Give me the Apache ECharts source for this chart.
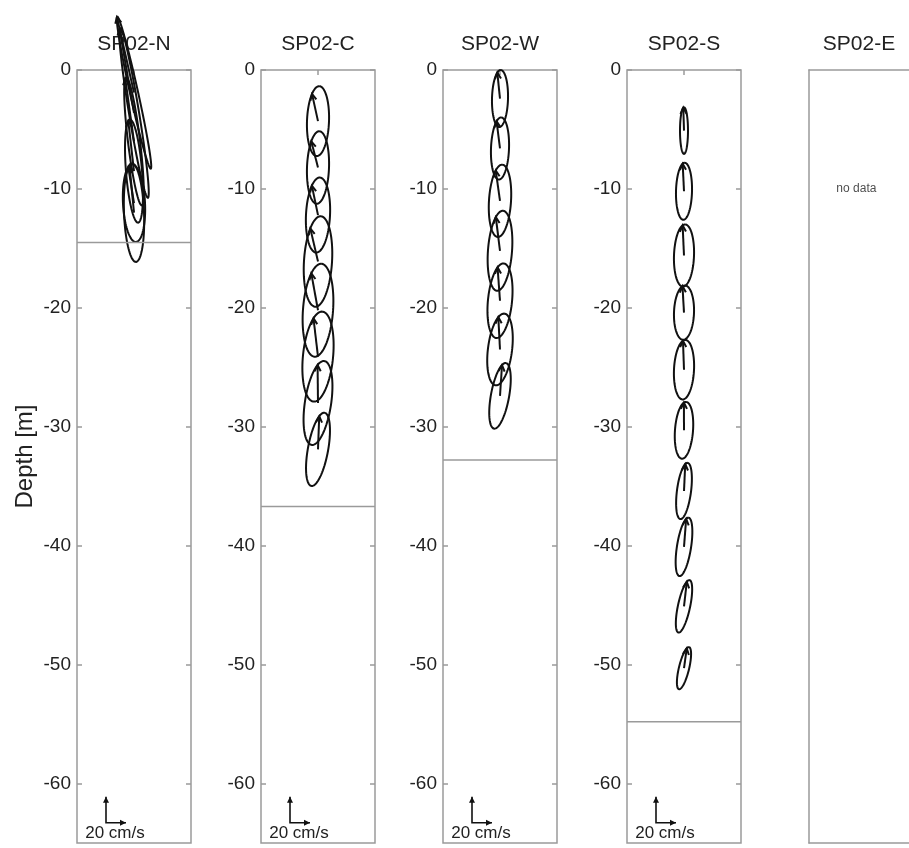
<!DOCTYPE html>
<html>
<head>
<meta charset="utf-8">
<script src="https://cdn.jsdelivr.net/npm/echarts@6/dist/echarts.min.js"></script>
<style>
html, body { margin: 0; background: #fff; }
#chart { width: 909px; height: 848px; }
</style>
</head>
<body>
<div id="chart"></div>
<script>
// stations and bottom depth [m]
const stations = ['SP02-N', 'SP02-C', 'SP02-W', 'SP02-S', 'SP02-E'];
const bottomDepth = [-14.5, -36.7, -32.8, -54.8, null];
const depthTicks = [0, -10, -20, -30, -40, -50, -60];

// tidal ellipses: depth [m], semi-major / semi-minor [cm/s],
// inclination [deg from north, + = east], phase [deg]
const depthN = [-1.9, -3.6, -6.0, -8.5, -11.2, -12.0];
const majorN = [61, 67, 50, 40, 30, 38];
const minorN = [4, 5, 6, 8, 11, 10];
const incN = [-16, -12, -9, -6, -4, -3];
const phaseN = [-5, -8, -10, -12, -20, -15];

const depthC = [-4.3, -8.2, -12.2, -16.1, -20.2, -24.1, -28.0, -31.9];
const majorC = [27, 28, 29, 35, 36, 35, 33, 29];
const minorC = [11, 11, 12, 14, 15, 15, 13, 10];
const incC = [3, 3, 4, 5, 6, 8, 12, 14];
const phaseC = [-40, -45, -40, -45, -40, -35, -30, -30];

const depthW = [-2.4, -6.6, -11.0, -15.2, -19.4, -23.5, -27.4];
const majorW = [22, 24, 28, 31, 29, 28, 26];
const minorW = [8, 9, 11, 12, 12, 12, 9];
const incW = [2, 3, 5, 6, 8, 10, 14];
const phaseW = [-25, -30, -35, -35, -30, -30, -25];

const depthS = [-5.1, -10.2, -15.6, -20.4, -25.2, -30.3, -35.4, -40.1, -45.1, -50.3];
const majorS = [18, 22, 24, 21, 23, 22, 22, 23, 21, 17];
const minorS = [4, 8, 10, 10, 10, 9, 7, 7, 6, 5];
const incS = [0, 2, 3, 3, 4, 6, 10, 12, 16, 18];
const phaseS = [-10, -15, -15, -15, -15, -15, -20, -20, -25, -25];

// scale arrow (east, depth, length cm/s) and "no data" label spot
const scaleBar = [-28, -63.3, 20];
const noDataAt = [-3, -10];

const VEL_TO_M = 0.109;   // north velocity -> depth units
const XMAX = 57;
const gridLeft = [77, 261, 443, 627, 809];
const FONT = '"Liberation Sans", Arial, sans-serif';
const AXIS_GRAY = '#9a9a9a';

const ellipseSets = [
    [depthN, majorN, minorN, incN, phaseN],
    [depthC, majorC, minorC, incC, phaseC],
    [depthW, majorW, minorW, incW, phaseW],
    [depthS, majorS, minorS, incS, phaseS]
];

const chart = echarts.init(document.getElementById('chart'));

const lineStyle = { stroke: '#111', lineWidth: 2, fill: null };

function renderEllipse(params, api) {
    const d = api.value(1);
    const A = api.value(2), B = api.value(3);
    const inc = api.value(4) * Math.PI / 180;
    const ph = api.value(5) * Math.PI / 180;
    const toPx = (a, b) => {
        const u = a * Math.sin(inc) + b * Math.cos(inc);
        const v = a * Math.cos(inc) - b * Math.sin(inc);
        return api.coord([u, d + v * VEL_TO_M]);
    };
    const pts = [];
    for (let k = 0; k <= 90; k++) {
        const t = k / 90 * Math.PI * 2;
        pts.push(toPx(A * Math.cos(t), B * Math.sin(t)));
    }
    const c = toPx(0, 0);
    const p = toPx(A * Math.cos(ph), B * Math.sin(ph));
    const ang = Math.atan2(p[1] - c[1], p[0] - c[0]);
    const L = 7, w = 0.45;
    const h1 = [p[0] - L * Math.cos(ang - w), p[1] - L * Math.sin(ang - w)];
    const h2 = [p[0] - L * Math.cos(ang + w), p[1] - L * Math.sin(ang + w)];
    return {
        type: 'group',
        children: [
            { type: 'polyline', shape: { points: pts }, style: lineStyle },
            { type: 'polyline', shape: { points: [c, p] }, style: lineStyle },
            { type: 'polyline', shape: { points: [h1, p, h2] }, style: lineStyle }
        ]
    };
}

function renderScale(params, api) {
    const u0 = api.value(0), d0 = api.value(1), len = api.value(2);
    const o = api.coord([u0, d0]);
    const up = api.coord([u0, d0 + len * VEL_TO_M]);
    const right = api.coord([u0 + len, d0]);
    const st = { stroke: '#111', lineWidth: 1.6, fill: null };
    return {
        type: 'group',
        children: [
            { type: 'polyline', shape: { points: [up, o, right] }, style: st },
            { type: 'polygon', shape: { points: [[up[0] - 3, up[1] + 6], [up[0], up[1]], [up[0] + 3, up[1] + 6]] }, style: { fill: '#111' } },
            { type: 'polygon', shape: { points: [[right[0] - 6, right[1] - 3], [right[0], right[1]], [right[0] - 6, right[1] + 3]] }, style: { fill: '#111' } },
            {
                type: 'text',
                x: o[0] + 9, y: o[1] + 11,
                style: { text: len + ' cm/s', font: '17px ' + FONT, fill: '#222', align: 'center', verticalAlign: 'middle' }
            }
        ]
    };
}

const grids = [], xAxes = [], yAxes = [], series = [];
const frameLine = { show: true, onZero: false, lineStyle: { color: AXIS_GRAY, width: 1.5 } };

stations.forEach((name, i) => {
    const hasData = i < 4;
    grids.push({
        left: gridLeft[i], top: 70, width: 114, height: 773,
        show: hasData, borderColor: AXIS_GRAY, borderWidth: 1.5, backgroundColor: 'transparent'
    });
    xAxes.push({
        gridIndex: i, type: 'value', position: 'top', min: -XMAX, max: XMAX,
        axisLine: hasData ? { show: false, onZero: false } : frameLine,
        axisTick: { show: hasData, inside: true, length: 5, customValues: [0], lineStyle: { color: AXIS_GRAY, width: 1.5 } },
        axisLabel: { show: false },
        splitLine: { show: false },
        name: name, nameLocation: 'middle', nameGap: 15,
        nameTextStyle: { fontFamily: FONT, fontSize: 21, color: '#222' }
    });
    yAxes.push({
        gridIndex: i, type: 'value', min: -65, max: 0,
        axisLine: hasData ? { show: false, onZero: false } : frameLine,
        axisTick: { show: hasData, inside: true, length: 5, customValues: depthTicks, lineStyle: { color: AXIS_GRAY, width: 1.5 } },
        axisLabel: { show: hasData, customValues: depthTicks, margin: 6, fontFamily: FONT, fontSize: 19, color: '#222' },
        splitLine: { show: false },
        name: i === 0 ? 'Depth [m]' : '', nameLocation: 'middle', nameGap: 40,
        nameTextStyle: { fontFamily: FONT, fontSize: 24, color: '#222' }
    });
    yAxes.push({
        gridIndex: i, type: 'value', position: 'right', min: -65, max: 0,
        axisLine: { show: false, onZero: false },
        axisTick: { show: hasData, inside: true, length: 5, customValues: depthTicks, lineStyle: { color: AXIS_GRAY, width: 1.5 } },
        axisLabel: { show: false },
        splitLine: { show: false }
    });

    if (hasData) {
        const [dep, maj, mnr, inc, ph] = ellipseSets[i];
        series.push({
            type: 'custom', xAxisIndex: i, yAxisIndex: 2 * i, clip: false,
            renderItem: renderEllipse,
            data: dep.map((d, k) => [0, d, maj[k], mnr[k], inc[k], ph[k]]),
            silent: true
        });
        series.push({
            type: 'line', xAxisIndex: i, yAxisIndex: 2 * i,
            data: [[-XMAX, bottomDepth[i]], [XMAX, bottomDepth[i]]],
            symbol: 'none', lineStyle: { color: AXIS_GRAY, width: 1.5 }, silent: true
        });
        series.push({
            type: 'custom', xAxisIndex: i, yAxisIndex: 2 * i, clip: false,
            renderItem: renderScale,
            data: [scaleBar], silent: true
        });
    } else {
        series.push({
            type: 'scatter', xAxisIndex: i, yAxisIndex: 2 * i,
            data: [noDataAt], symbolSize: 0,
            label: { show: true, position: 'inside', formatter: 'no data', fontFamily: FONT, fontSize: 12, color: '#222' },
            silent: true
        });
    }
});

// bottom frame line of the empty last panel (its right edge lies off the page)
xAxes.push({
    gridIndex: 4, type: 'value', position: 'bottom', min: -XMAX, max: XMAX,
    axisLine: frameLine, axisTick: { show: false }, axisLabel: { show: false }, splitLine: { show: false }
});

chart.setOption({
    animation: false,
    grid: grids,
    xAxis: xAxes,
    yAxis: yAxes,
    series: series
});

window.addEventListener('resize', () => chart.resize());
</script>
</body>
</html>
